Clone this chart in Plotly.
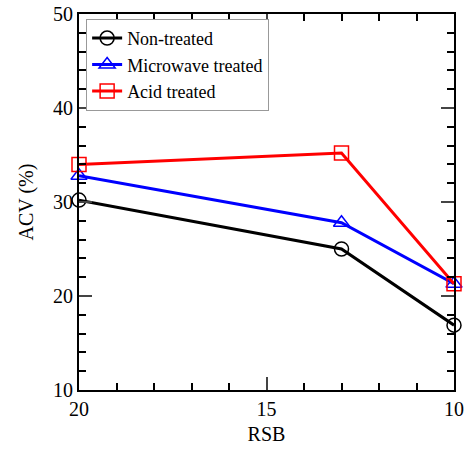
import plotly.graph_objects as go

rsb = [20, 13, 10]
non_treated = [30.2, 25.0, 16.9]
microwave_treated = [32.8, 27.8, 21.3]
acid_treated = [34.0, 35.2, 21.3]

series = [
    ("Non-treated", non_treated, "black", "circle-open"),
    ("Microwave treated", microwave_treated, "blue", "triangle-up-open"),
    ("Acid treated", acid_treated, "red", "square-open"),
]

fig = go.Figure()
for name, vals, color, sym in series:
    fig.add_trace(go.Scatter(
        x=rsb, y=vals, name=name, mode="lines+markers",
        line=dict(color=color, width=3),
        marker=dict(symbol=sym, size=14, color=color, line=dict(width=1.5, color=color)),
        cliponaxis=False,
    ))

font = "Liberation Serif"
fig.update_layout(
    width=473, height=452,
    margin=dict(l=79, r=19, t=14, b=62, autoexpand=False),
    plot_bgcolor="white", paper_bgcolor="white",
    font=dict(family=font, color="black", size=18),
    showlegend=True,
    legend=dict(x=0.019, y=0.987, xanchor="left", yanchor="top",
                bgcolor="white", bordercolor="#999999", borderwidth=1,
                font=dict(size=18, family=font, color="black"),
                tracegroupgap=0),
)
fig.update_xaxes(
    range=[20, 10], tickvals=[20, 15, 10], ticks="inside", ticklen=13, tickwidth=1.5,
    showline=True, linecolor="black", linewidth=2, mirror="ticks",
    showgrid=False, zeroline=False, automargin=False,
    tickfont=dict(size=20, family=font), title=dict(text="RSB", font=dict(size=20, family=font), standoff=8),
    minor=dict(dtick=1, ticks="inside", ticklen=7, tickwidth=1.5, tickcolor="black", showgrid=False),
)
fig.update_yaxes(
    range=[10, 50], tickvals=[10, 20, 30, 40, 50], ticks="inside", ticklen=13, tickwidth=1.5,
    showline=True, linecolor="black", linewidth=2, mirror="ticks",
    showgrid=False, zeroline=False, automargin=False,
    tickfont=dict(size=20, family=font), title=dict(text="ACV (%)", font=dict(size=20, family=font), standoff=14),
    minor=dict(dtick=2, ticks="inside", ticklen=7, tickwidth=1.5, tickcolor="black", showgrid=False),
)
fig.write_html("out.html", config={"displayModeBar": False},
               post_script="document.body.style.margin='0';")
